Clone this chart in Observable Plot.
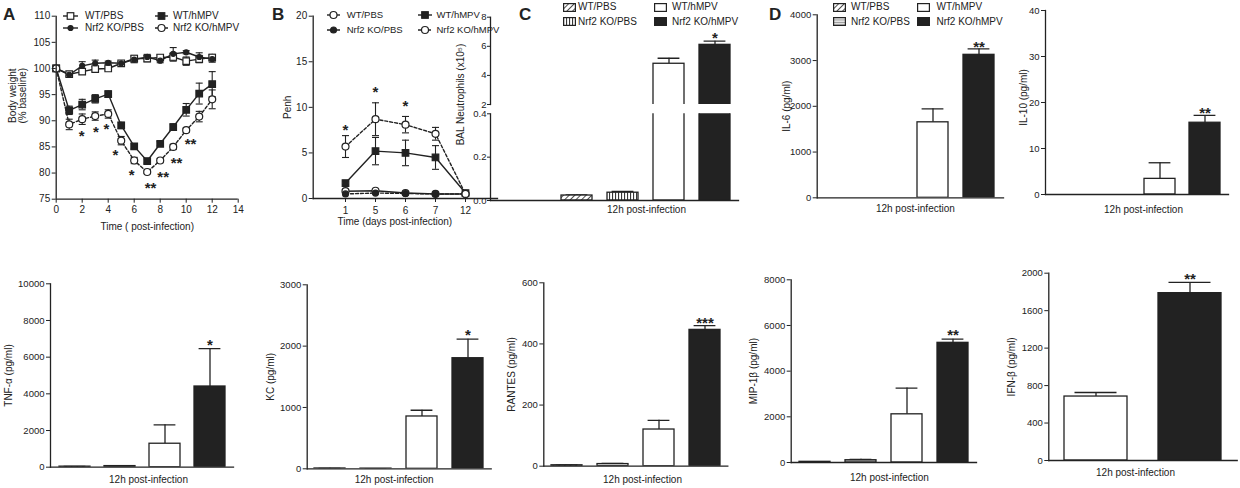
<!DOCTYPE html>
<html>
<head>
<meta charset="utf-8">
<script src="https://cdn.jsdelivr.net/npm/d3@7"></script>
<script src="https://cdn.jsdelivr.net/npm/@observablehq/plot@0.6"></script>
<style>
  html,body{margin:0;padding:0;background:#fff;}
  #fig{position:relative;width:1240px;height:488px;overflow:hidden;background:#fff;
       font-family:'Liberation Sans',Arial,Helvetica,sans-serif;color:#222;}
  #fig .t{position:absolute;white-space:nowrap;font-size:10px;line-height:12px;}
  #fig .t2{position:absolute;white-space:nowrap;font-size:9.5px;line-height:12px;}
  #fig .letter{position:absolute;font-size:17px;font-weight:bold;line-height:17px;}
  #fig svg.sw{position:absolute;overflow:visible;}
</style>
</head>
<body>
<svg width="0" height="0" style="position:absolute">
 <defs>
  <pattern id="hatchDiag" width="4" height="4" patternUnits="userSpaceOnUse" patternTransform="rotate(45)">
    <rect width="4" height="4" fill="#fff"/>
    <line x1="0" y1="0" x2="0" y2="4" stroke="#222" stroke-width="1.6"/>
  </pattern>
  <pattern id="vStripes" width="3" height="3" patternUnits="userSpaceOnUse">
    <rect width="3" height="3" fill="#fff"/>
    <line x1="0.6" y1="0" x2="0.6" y2="3" stroke="#222" stroke-width="1"/>
  </pattern>
  <pattern id="hLines" width="3" height="2.5" patternUnits="userSpaceOnUse">
    <rect width="3" height="2.5" fill="#e4e4e4"/>
    <line x1="0" y1="0.5" x2="3" y2="0.5" stroke="#888" stroke-width="0.8"/>
  </pattern>
 </defs>
</svg>
<div id="fig"></div>
<script>
// ---------------- DATA ----------------
const groups = ["WT/PBS", "Nrf2 KO/PBS", "WT/hMPV", "Nrf2 KO/hMPV"];
const groupsIFN = ["WT/hMPV", "Nrf2 KO/hMPV"];

// Panel A: body weight (% baseline)
const daysA = [0,1,2,3,4,5,6,7,8,9,10,11,12];
const xTicksA = [0,2,4,6,8,10,12,14];
const yTicksA = [75,80,85,90,95,100,105,110];
const wtPbsA     = [100,98.9,99.4,99.9,100,101,101.9,101.9,102.1,102.2,101.4,101.8,102.1];
const wtPbsAErr  = [0,0.3,0.4,0.4,0.3,0.3,0.6,0.6,0.5,0.8,0.8,0.7,0.6];
const koPbsA     = [100,98.8,100.5,101,101.1,101,101.7,102.2,101.5,102.8,103.1,102.2,101.8];
const koPbsAErr  = [0,0.3,0.8,0.6,0.3,0.3,0.6,0.5,0.4,1.2,0.3,0.8,0.6];
const wtHmpvA    = [100,92,93.1,94.2,95.1,89.1,85.1,82.3,85.6,88.8,92.1,95.2,97];
const wtHmpvAErr = [0,0.8,1,0.8,0.6,0.6,0.5,0.4,0.4,0.6,1.2,2,2.4];
const koHmpvA    = [100,89.3,90.3,90.9,91.3,86.2,82.4,80.2,82.4,85,88.2,90.8,94.1];
const koHmpvAErr = [0,1,1,0.8,0.8,0.8,0.6,0.3,0.4,0.5,0.4,1,1.8];
const starsA = [
  {x:1.95,y:87.8,t:"*"},{x:3.05,y:88.6,t:"*"},{x:3.87,y:89.1,t:"*"},{x:4.56,y:84.2,t:"*"},
  {x:5.8,y:80.4,t:"*"},{x:7.26,y:77.8,t:"**"},{x:8.23,y:80,t:"**"},{x:9.26,y:82.7,t:"**"},{x:10.33,y:86.2,t:"**"}
];

// Panel B: Penh
const daysB = ["1","5","6","7","12"];
const yTicksB = [0,5,10,15,20];
const wtPbsB     = [0.8,0.85,0.6,0.5,0.5];
const wtPbsBErr  = [0.1,0.1,0.1,0.05,0.05];
const koPbsB     = [0.5,0.6,0.55,0.5,0.5];
const koPbsBErr  = [0.05,0.1,0.05,0.05,0.05];
const wtHmpvB    = [1.7,5.2,5.0,4.5,0.6];
const wtHmpvBErr = [0.2,1.5,1.4,1.3,0.1];
const koHmpvB    = [5.7,8.7,8.1,7.1,0.5];
const koHmpvBErr = [1.2,1.8,0.9,0.7,0.1];
const starsB = [{x:"1",y:7.9,t:"*"},{x:"5",y:12.1,t:"*"},{x:"6",y:10.6,t:"*"}];

// Panel C: BAL neutrophils (x10^5), broken axis
const neut    = [0.023, 0.036, 4.8, 6.1];
const neutErr = [0.003, 0.006, 0.38, 0.25];
const yTicksCTop = [2,4,6,8];
const yTicksCBot = [0,0.2,0.4];
const starC = {g:"Nrf2 KO/hMPV", y:6.86, t:"*"};

// Panel D and cytokines (pg/ml)
const il6 = [0,0,1650,3125];      const il6Err = [0,0,295,130];
const il10 = [0,0,3.4,15.6];      const il10Err = [0,0,3.5,1.6];
const tnf = [30,60,1280,4400];    const tnfErr = [10,20,1030,2060];
const kc = [5,3,853,1803];        const kcErr = [2,1,102,310];
const rantes = [3,7,120,446];     const rantesErr = [1,2,30,14];
const mip = [30,100,2110,5240];   const mipErr = [10,40,1150,160];
const ifnb = [683,1787];          const ifnbErr = [43,114];
const ticksIL6 = [0,1000,2000,3000,4000];
const ticksIL10 = [0,10,20,30,40];
const ticksTNF = [0,2000,4000,6000,8000,10000];
const ticksKC = [0,1000,2000,3000];
const ticksRANTES = [0,200,400,600];
const ticksMIP = [0,2000,4000,6000,8000];
const ticksIFN = [0,400,800,1200,1600,2000];
const starIL6 = {y:3388, t:"**"};
const starIL10 = {y:18.6, t:"**"};
const starTNF = {y:6857, t:"*"};
const starKC = {y:2243, t:"*"};
const starRANTES = {y:480, t:"***"};
const starMIP = {y:5750, t:"**"};
const starIFN = {y:1983, t:"**"};

const xTitle = "12h post-infection";

// ---------------- DRAWING ----------------
const FONT = "'Liberation Sans', Arial, Helvetica, sans-serif";
const INK = "#222";
const W = 1240, H = 488;
const fig = document.getElementById("fig");

function base([x0,x1,y0,y1]) {
  return {width:W, height:H, marginLeft:x0, marginRight:W-x1, marginTop:y0, marginBottom:H-y1,
    style:{background:"transparent", fontFamily:FONT, fontSize:"9.5px", color:INK, overflow:"visible"}};
}
function place(node){
  node.style.position = "absolute"; node.style.left = "0px"; node.style.top = "0px";
  fig.appendChild(node);
}
const capSymbol = {draw(ctx, size){ const w = Math.sqrt(size/Math.PI); ctx.moveTo(-w,0); ctx.lineTo(w,0); }};
const starStyle = {fontSize:15, fontWeight:"bold", lineAnchor:"middle", dy:4, fill:INK};

function yLabelMark(text, dx, dy=0){
  return Plot.text([text], {text:d=>d, frameAnchor:"left", rotate:-90, dx, dy, lineAnchor:"middle", textAnchor:"middle", fontSize:10, fill:INK});
}
function xTitleMark(text, dy, dx=0){
  return Plot.text([text], {text:d=>d, frameAnchor:"bottom", dx, dy, lineAnchor:"middle", textAnchor:"middle", fontSize:10, fill:INK});
}

function seriesMarks(xs, s, capR){
  const d = xs.map((x,i)=>({x, v:s.values[i], e:s.errs[i]}));
  const de = d.filter(r=>r.e>0);
  const lineOpts = {x:"x", y:"v", stroke:INK, strokeWidth:1.4};
  if (s.dash) lineOpts.strokeDasharray = s.dash;
  return {
    line: Plot.line(d, lineOpts),
    err: [
      Plot.ruleX(de, {x:"x", y1:r=>r.v-r.e, y2:r=>r.v+r.e, stroke:INK, strokeWidth:1.1}),
      Plot.dot(de, {x:"x", y:r=>r.v+r.e, symbol:capSymbol, r:capR, fill:"none", stroke:INK, strokeWidth:1.1}),
      Plot.dot(de, {x:"x", y:r=>r.v-r.e, symbol:capSymbol, r:capR, fill:"none", stroke:INK, strokeWidth:1.1})
    ],
    dots: Plot.dot(d, {x:"x", y:"v", symbol:s.symbol, r:s.r, fill:s.fill, stroke:INK, strokeWidth:1.2})
  };
}

// ----- Panel A -----
const seriesA = [
  {name:groups[0], values:wtPbsA, errs:wtPbsAErr, symbol:"square", r:3.7, fill:"#fff"},
  {name:groups[1], values:koPbsA, errs:koPbsAErr, symbol:"circle", r:2.5, fill:INK},
  {name:groups[2], values:wtHmpvA, errs:wtHmpvAErr, symbol:"square", r:3.7, fill:INK},
  {name:groups[3], values:koHmpvA, errs:koHmpvAErr, symbol:"circle", r:3.5, fill:"#fff", dash:"3,2"}
];
{
  const sm = seriesA.map(s=>seriesMarks(daysA, s, 3.5));
  place(Plot.plot({
    ...base([55.7,237.7,15.7,198.7]),
    x:{domain:[0,14], axis:null}, y:{domain:[75,110], axis:null},
    marks:[
      ...sm.map(m=>m.line), ...sm.flatMap(m=>m.err), ...sm.map(m=>m.dots),
      Plot.text(starsA, {x:"x", y:"y", text:"t", ...starStyle}),
      Plot.ruleY([75], {stroke:INK, strokeWidth:1.3}),
      Plot.ruleX([0], {stroke:INK, strokeWidth:1.3}),
      Plot.axisX({ticks:xTicksA, tickSize:4, tickPadding:3, label:null, tickFormat:d=>String(d), fontSize:10}),
      Plot.axisY({ticks:yTicksA, tickSize:4, tickPadding:2, label:null, tickFormat:d=>String(d), fontSize:10}),
      yLabelMark("Body weight\n(% baseline)", -38.7, -12),
      xTitleMark("Time ( post-infection)", 27.3)
    ]
  }));
}

// ----- Panel B -----
const seriesB = [
  {name:groups[0], values:wtPbsB, errs:wtPbsBErr, symbol:"circle", r:3.5, fill:"#fff"},
  {name:groups[1], values:koPbsB, errs:koPbsBErr, symbol:"circle", r:3, fill:INK, dash:"3,2"},
  {name:groups[2], values:wtHmpvB, errs:wtHmpvBErr, symbol:"square", r:3.7, fill:INK},
  {name:groups[3], values:koHmpvB, errs:koHmpvBErr, symbol:"circle", r:3.5, fill:"#fff", dash:"3,2"}
];
{
  const sm = seriesB.map(s=>seriesMarks(daysB, s, 3.5));
  place(Plot.plot({
    ...base([312.7,497,15.7,198]),
    x:{type:"point", domain:daysB, padding:1, axis:null}, y:{domain:[0,20], axis:null},
    marks:[
      ...sm.map(m=>m.line), ...sm.flatMap(m=>m.err), ...sm.map(m=>m.dots),
      Plot.text(starsB, {x:"x", y:"y", text:"t", ...starStyle}),
      Plot.frame({anchor:"bottom", stroke:INK, strokeWidth:1.3}),
      Plot.frame({anchor:"left", stroke:INK, strokeWidth:1.3}),
      Plot.axisX({tickSize:4, tickPadding:4, label:null, fontSize:10}),
      Plot.axisY({ticks:yTicksB, tickSize:4, tickPadding:2, label:null, tickFormat:d=>String(d), fontSize:10}),
      yLabelMark("Penh", 287-312.7),
      xTitleMark("Time (days post-infection)", 23.7, -10.5)
    ]
  }));
}

// ----- Bar panels -----
function barMarks(rows, fills, capInset, filterFn){
  const withErr = rows.filter(r=>r.e>0 && (!filterFn || filterFn(r)));
  return [
    Plot.ruleX(withErr, {x:"g", y1:"v", y2:r=>r.v+r.e, stroke:INK, strokeWidth:1.3, clip:true}),
    Plot.tickY(withErr, {x:"g", y:r=>r.v+r.e, stroke:INK, strokeWidth:1.3, insetLeft:capInset, insetRight:capInset, clip:true}),
    ...rows.map((r,i)=>Plot.barY([r], {x:"g", y1:0, y2:"v", fill:fills[i], stroke:INK, strokeWidth:1.3, clip:true}))
  ];
}
const fillsD = ["url(#hatchDiag)", "url(#hLines)", "#fff", INK];
const fillsC = ["url(#hatchDiag)", "url(#vStripes)", "#fff", INK];

function barPanel({gs=groups, values, errs, frame, domain, ticks, fmt=d=>String(d), label, labelX, labelDy=0, titleDx=0, titleDy, star, fills=fillsD, pad=0.32, capInset=4.6}){
  const rows = gs.map((g,i)=>({g, v:values[i], e:errs[i]}));
  const [x0,x1,y0,y1] = frame;
  place(Plot.plot({
    ...base(frame),
    x:{type:"band", domain:gs, paddingInner:pad, paddingOuter:pad/2, axis:null},
    y:{domain, axis:null},
    marks:[
      ...barMarks(rows, fills, capInset),
      Plot.text([{g:gs[gs.length-1], y:star.y, t:star.t}], {x:"g", y:"y", text:"t", ...starStyle}),
      Plot.frame({anchor:"left", stroke:INK, strokeWidth:1.3}),
      Plot.frame({anchor:"bottom", stroke:INK, strokeWidth:1.3}),
      Plot.axisY({ticks, tickSize:4, tickPadding:2, label:null, tickFormat:fmt, fontSize:9.5}),
      yLabelMark(label, labelX - x0, labelDy),
      xTitleMark(xTitle, titleDy, titleDx)
    ]
  }));
}

// ----- Panel C (broken axis) -----
{
  const rows = groups.map((g,i)=>({g, v:neut[i], e:neutErr[i]}));
  const xC = {type:"band", domain:groups, paddingInner:0.32, paddingOuter:0.16, range:[554,738], axis:null};
  place(Plot.plot({
    ...base([490,738,16.7,104]),
    x:xC, y:{domain:[2,8], axis:null},
    marks:[
      ...barMarks(rows, fillsC, 4.6, r=>r.v>2),
      Plot.text([starC], {x:"g", y:"y", text:"t", ...starStyle}),
      Plot.frame({anchor:"left", stroke:INK, strokeWidth:1.3}),
      Plot.axisY({ticks:yTicksCTop, tickSize:3, tickPadding:1, label:null, tickFormat:d=>String(d), fontSize:9.5})
    ]
  }));
  place(Plot.plot({
    ...base([490,738,113.3,200]),
    x:xC, y:{domain:[0,0.4], axis:null},
    marks:[
      ...barMarks(rows, fillsC, 4.6, r=>r.v+r.e<=0.4),
      Plot.frame({anchor:"left", stroke:INK, strokeWidth:1.3}),
      Plot.frame({anchor:"bottom", stroke:INK, strokeWidth:1.3}),
      Plot.axisY({ticks:yTicksCBot, tickSize:3, tickPadding:1, label:null, tickFormat:d3.format(".1f"), fontSize:9.5}),
      yLabelMark("BAL Neutrophils (x10\u2075)", 460-490, 94-156.65),
      xTitleMark(xTitle, 9.5, 32)
    ]
  }));
}

// ----- Panel D top -----
barPanel({values:il6, errs:il6Err, frame:[816.7,1003,14.3,197.3], domain:[0,4000], ticks:ticksIL6,
  label:"IL-6 (pg/ml)", labelX:786.5, titleDx:5, titleDy:11, star:starIL6});
barPanel({values:il10, errs:il10Err, frame:[1045,1228,10,194], domain:[0,40], ticks:ticksIL10,
  label:"IL-10 (pg/ml)", labelX:1023, labelDy:-5, titleDx:6.5, titleDy:15, star:starIL10});

// ----- Bottom row -----
barPanel({values:tnf, errs:tnfErr, frame:[50,233,283.3,466.7], domain:[0,10000], ticks:ticksTNF,
  label:"TNF-\u03b1 (pg/ml)", labelX:8, titleDx:6.5, titleDy:12.5, star:starTNF});
barPanel({values:kc, errs:kcErr, frame:[306.7,490.7,284.3,468.3], domain:[0,3000], ticks:ticksKC,
  label:"KC (pg/ml)", labelX:270, titleDx:-5, titleDy:11, star:starKC});
barPanel({values:rantes, errs:rantesErr, frame:[543.3,727.3,282.3,465.7], domain:[0,600], ticks:ticksRANTES,
  label:"RANTES (pg/ml)", labelX:511.5, titleDx:6.7, titleDy:13.6, star:starRANTES});
barPanel({values:mip, errs:mipErr, frame:[790.7,976,279.3,462], domain:[0,8000], ticks:ticksMIP,
  label:"MIP-1\u03b2 (pg/ml)", labelX:753, titleDx:5.6, titleDy:15.3, star:starMIP});
barPanel({gs:groupsIFN, values:ifnb, errs:ifnbErr, frame:[1048.3,1236.7,272.7,460], domain:[0,2000], ticks:ticksIFN,
  label:"IFN-\u03b2 (pg/ml)", labelX:1011.5, titleDx:-7.5, titleDy:12.3, star:starIFN,
  fills:["#fff", INK], pad:0.33, capInset:10.5});

// ---------------- LEGENDS & LETTERS (HTML) ----------------
function htmlText(txt, left, cy, cls="t"){
  const d = document.createElement("div");
  d.className = cls; d.textContent = txt;
  d.style.left = left + "px"; d.style.top = (cy - 6) + "px";
  fig.appendChild(d);
}
function lineSwatch(left, cy, w, s){
  const svg = d3.create("svg").attr("class","sw").attr("width", w).attr("height", 12)
    .style("left", left+"px").style("top", (cy-6)+"px");
  svg.append("line").attr("x1",0).attr("x2",w).attr("y1",6).attr("y2",6)
    .attr("stroke",INK).attr("stroke-width",1.4).attr("stroke-dasharray", s.dash || null);
  if (s.symbol === "square") {
    const a = s.r*1.77;
    svg.append("rect").attr("x", w/2-a/2).attr("y", 6-a/2).attr("width",a).attr("height",a)
      .attr("fill",s.fill).attr("stroke",INK).attr("stroke-width",1.2);
  } else {
    svg.append("circle").attr("cx", w/2).attr("cy",6).attr("r", s.r).attr("fill",s.fill)
      .attr("stroke",INK).attr("stroke-width",1.2);
  }
  fig.appendChild(svg.node());
}
function boxSwatch(left, cy, fill){
  const svg = d3.create("svg").attr("class","sw").attr("width", 13).attr("height", 9)
    .style("left", left+"px").style("top", (cy-4.5)+"px");
  svg.append("rect").attr("x",0.6).attr("y",0.6).attr("width",11.8).attr("height",7.8)
    .attr("fill",fill).attr("stroke",INK).attr("stroke-width",1.2);
  fig.appendChild(svg.node());
}
const legendSlots = [[0,0],[0,1],[1,0],[1,1]];
function lineLegend(series, cols, rows, cls="t"){
  series.forEach((s,i)=>{
    const [c,r] = legendSlots[i];
    lineSwatch(cols[c][0], rows[r], cols[c][1], s);
    htmlText(s.name, cols[c][2], rows[r], cls);
  });
}
function boxLegend(names, fills, cols, rows){
  names.forEach((n,i)=>{
    const [c,r] = legendSlots[i];
    boxSwatch(cols[c][0], rows[r], fills[i]);
    htmlText(n, cols[c][1], rows[r]);
  });
}
lineLegend(seriesA, [[63,15,85],[155,13,173]], [15.7,28.3]);
lineLegend(seriesB, [[327,13,346.7],[418,14,436.5]], [15,30], "t2");
boxLegend(groups, fillsC, [[563,578],[654,672]], [7,21.7]);
boxLegend(groups, fillsD, [[833,851],[917,936.5]], [7,21.7]);

htmlText("A", 3, 12, "letter");
htmlText("B", 272, 12, "letter");
htmlText("C", 519, 12, "letter");
htmlText("D", 769, 12, "letter");
</script>
</body>
</html>
